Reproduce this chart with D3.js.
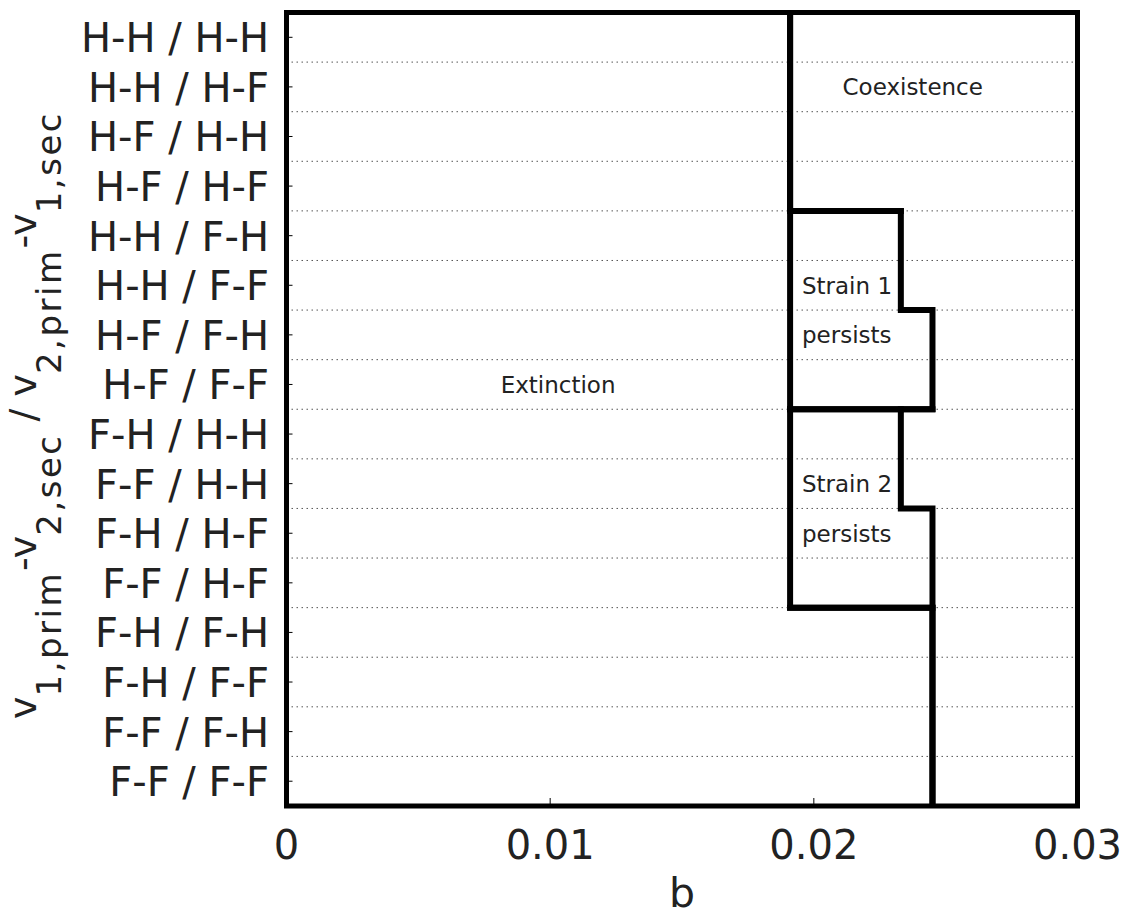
<!DOCTYPE html>
<html>
<head>
<meta charset="utf-8">
<script src="https://cdn.jsdelivr.net/npm/d3@7"></script>
<style>
  body { margin: 0; background: #fff; }
  svg { font-family: "DejaVu Sans", sans-serif; }
</style>
</head>
<body>
<div id="chart"></div>
<script>
// Row labels (top to bottom)
const categories = [
    'H-H / H-H', 'H-H / H-F', 'H-F / H-H', 'H-F / H-F',
    'H-H / F-H', 'H-H / F-F', 'H-F / F-H', 'H-F / F-F',
    'F-H / H-H', 'F-F / H-H', 'F-H / H-F', 'F-F / H-F',
    'F-H / F-H', 'F-H / F-F', 'F-F / F-H', 'F-F / F-F'
];

// b below which both strains go extinct
const bExtinct = [
    0.0191, 0.0191, 0.0191, 0.0191,
    0.0191, 0.0191, 0.0191, 0.0191,
    0.0191, 0.0191, 0.0191, 0.0191,
    0.0245, 0.0245, 0.0245, 0.0245
];

// b above which the strains coexist
const bCoexist = [
    0.0191, 0.0191, 0.0191, 0.0191,
    0.0233, 0.0233, 0.0245, 0.0245,
    0.0233, 0.0233, 0.0245, 0.0245,
    0.0245, 0.0245, 0.0245, 0.0245
];

const xTicks = [0, 0.01, 0.02, 0.03];
const xTickLabels = ['0', '0.01', '0.02', '0.03'];

// single-strain persistence blocks: first and last row index
const persistGroups = [
    { first: 4, last: 7 },
    { first: 8, last: 11 }
];

// region labels: [text, b position, row index, anchor]
const regionLabels = [
    ['Coexistence', 0.02375, 1, 'middle'],
    ['Extinction', 0.0103, 7, 'middle'],
    ['Strain 1', 0.01955, 5, 'start'],
    ['persists', 0.01955, 6, 'start'],
    ['Strain 2', 0.01955, 9, 'start'],
    ['persists', 0.01955, 10, 'start']
];

const W = 1125, H = 917;
const plotLeft = 286.5, plotRight = 1077.5, plotTop = 12.5, plotBottom = 806;

const svg = d3.select('#chart')
    .append('svg')
    .attr('width', W)
    .attr('height', H);

const x = d3.scaleLinear().domain([0, 0.03]).range([plotLeft, plotRight]);
const y = d3.scaleBand().domain(d3.range(categories.length)).range([plotTop, plotBottom]);

// dotted row separators
svg.append('g')
    .selectAll('line')
    .data(d3.range(1, categories.length))
    .enter()
    .append('line')
    .attr('x1', plotLeft)
    .attr('x2', plotRight)
    .attr('y1', d => y(d))
    .attr('y2', d => y(d))
    .attr('stroke', '#555')
    .attr('stroke-width', 1)
    .attr('stroke-dasharray', '1.5,3.5');

// y ticks (inward)
svg.append('g')
    .selectAll('line')
    .data(d3.range(categories.length))
    .enter()
    .append('line')
    .attr('x1', plotLeft)
    .attr('x2', plotLeft + 6)
    .attr('y1', d => y(d) + y.bandwidth() / 2)
    .attr('y2', d => y(d) + y.bandwidth() / 2)
    .attr('stroke', '#000')
    .attr('stroke-width', 1);

// x ticks (inward)
svg.append('g')
    .selectAll('line')
    .data(xTicks)
    .enter()
    .append('line')
    .attr('x1', d => x(d))
    .attr('x2', d => x(d))
    .attr('y1', plotBottom)
    .attr('y2', plotBottom - 8)
    .attr('stroke', '#000')
    .attr('stroke-width', 1);

// step boundary built from per-row thresholds
function stepPoints(vals) {
    const pts = [];
    vals.forEach((v, i) => {
        pts.push([x(v), y(i)]);
        pts.push([x(v), y(i) + y.bandwidth()]);
    });
    return pts;
}
const line = d3.line();

[bExtinct, bCoexist].forEach(vals => {
    svg.append('path')
        .attr('d', line(stepPoints(vals)))
        .attr('fill', 'none')
        .attr('stroke', '#000')
        .attr('stroke-width', 6)
        .attr('stroke-linejoin', 'miter');
});

// top and bottom edges of the persistence blocks
persistGroups.forEach(g => {
    [[g.first, y(g.first)], [g.last, y(g.last) + y.bandwidth()]].forEach(([r, yy]) => {
        svg.append('line')
            .attr('x1', x(bExtinct[r]) - 3)
            .attr('x2', x(bCoexist[r]) + 3)
            .attr('y1', yy)
            .attr('y2', yy)
            .attr('stroke', '#000')
            .attr('stroke-width', 6);
    });
});

// frame
svg.append('rect')
    .attr('x', plotLeft)
    .attr('y', plotTop)
    .attr('width', plotRight - plotLeft)
    .attr('height', plotBottom - plotTop)
    .attr('fill', 'none')
    .attr('stroke', '#000')
    .attr('stroke-width', 5);

// region labels
svg.append('g')
    .selectAll('text')
    .data(regionLabels)
    .enter()
    .append('text')
    .attr('x', d => x(d[1]))
    .attr('y', d => y(d[2]) + y.bandwidth() / 2 + 8.5)
    .attr('text-anchor', d => d[3])
    .attr('font-size', '23px')
    .attr('fill', '#222')
    .text(d => d[0]);

// category labels
svg.append('g')
    .selectAll('text')
    .data(categories)
    .enter()
    .append('text')
    .attr('x', 269)
    .attr('y', (d, i) => y(i) + y.bandwidth() / 2 + 15)
    .attr('text-anchor', 'end')
    .attr('font-size', '40px')
    .attr('fill', '#222')
    .text(d => d);

// x tick labels
svg.append('g')
    .selectAll('text')
    .data(xTicks)
    .enter()
    .append('text')
    .attr('x', d => x(d))
    .attr('y', 859)
    .attr('text-anchor', 'middle')
    .attr('font-size', '40px')
    .attr('fill', '#222')
    .text((d, i) => xTickLabels[i]);

// x label
svg.append('text')
    .attr('x', (plotLeft + plotRight) / 2)
    .attr('y', 907)
    .attr('text-anchor', 'middle')
    .attr('font-size', '41px')
    .attr('fill', '#222')
    .text('b');

// y label with subscripts
const yLabelParts = [
    ['v', false], ['1,prim', true], ['-v', false], ['2,sec', true],
    [' / v', false], ['2,prim', true], ['-v', false], ['1,sec', true]
];
const yl = svg.append('text')
    .attr('transform', 'translate(36,415) rotate(-90)')
    .attr('text-anchor', 'middle')
    .attr('fill', '#222')
    .attr('font-size', '38px');
let shifted = false;
yLabelParts.forEach(([t, sub]) => {
    const ts = yl.append('tspan').text(t);
    if (sub) {
        ts.attr('font-size', '34px').attr('letter-spacing', '2.5px');
        if (!shifted) { ts.attr('dy', 25); shifted = true; }
    } else if (shifted) {
        ts.attr('dy', -25);
        shifted = false;
    }
});
</script>
</body>
</html>
